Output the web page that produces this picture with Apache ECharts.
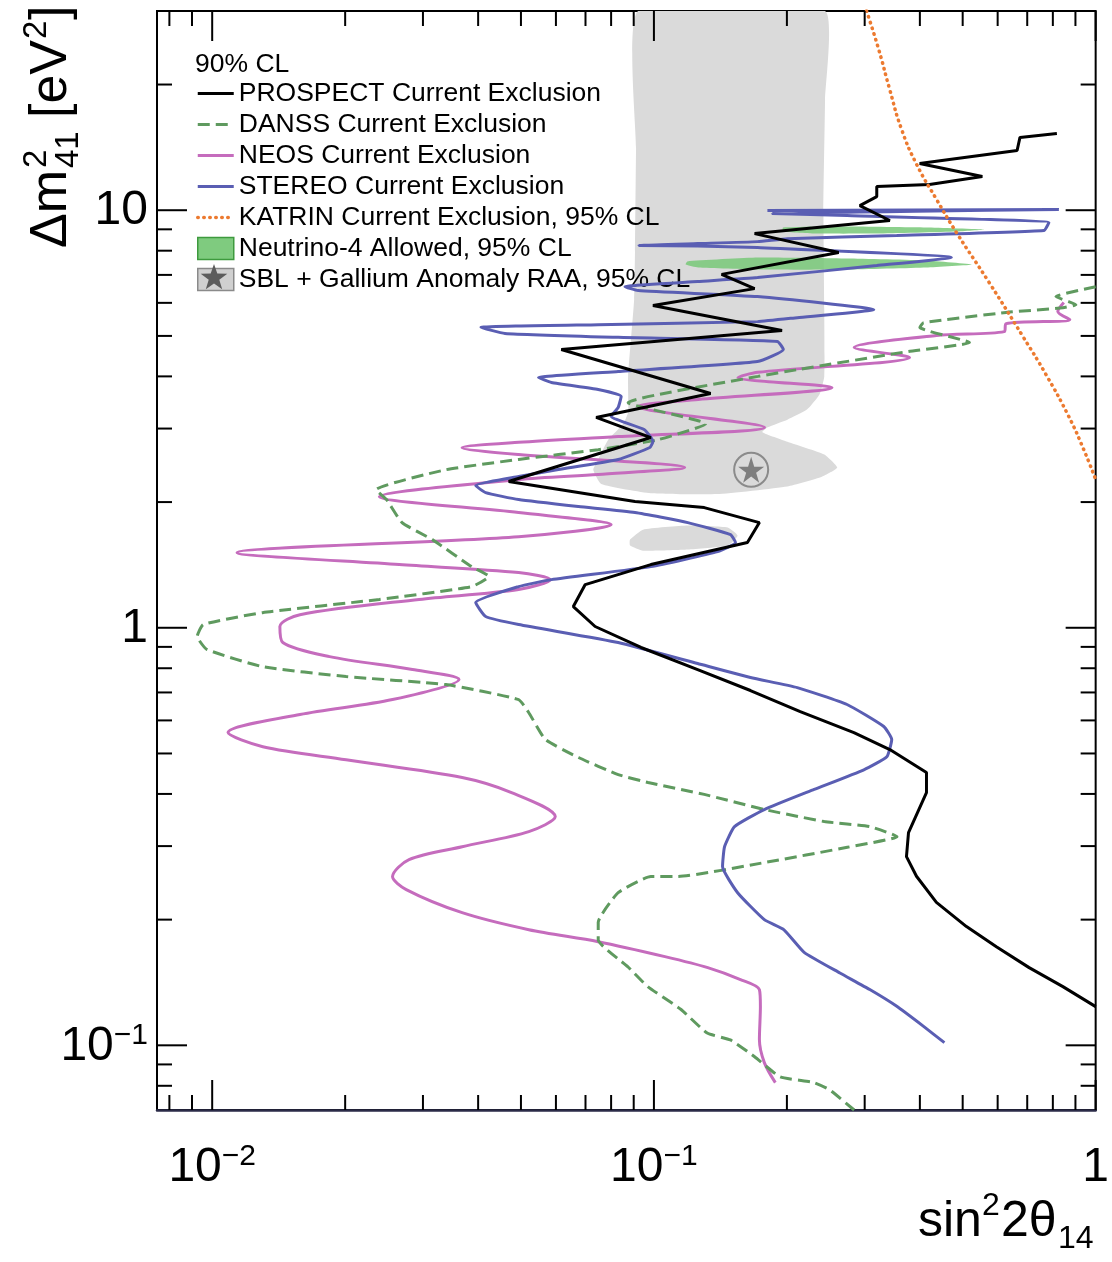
<!DOCTYPE html>
<html>
<head>
<meta charset="utf-8">
<script src="https://cdn.jsdelivr.net/npm/echarts@6/dist/echarts.min.js"></script>
<style>
html,body{margin:0;padding:0;background:#fff;}
#chart{width:1112px;height:1262px;}
</style>
</head>
<body>
<div id="chart"></div>
<script>
const FONT = '"Liberation Sans", Arial, Helvetica, sans-serif';
const X_MIN = 0.0075, X_MAX = 1, Y_MIN = 0.07, Y_MAX = 30;

const xMajorTicks = [0.01, 0.1, 1];
const xMinorTicks = [0.008, 0.009, 0.02, 0.03, 0.04, 0.05, 0.06, 0.07, 0.08, 0.09, 0.2, 0.3, 0.4, 0.5, 0.6, 0.7, 0.8, 0.9];
const xTickLabels = ['{b|10}{s|\u22122}', '{b|10}{s|\u22121}', '{b|1}'];
const yMajorTicks = [0.1, 1, 10];
const yMinorTicks = [0.08, 0.09, 0.2, 0.3, 0.4, 0.5, 0.6, 0.7, 0.8, 0.9, 2, 3, 4, 5, 6, 7, 8, 9, 20, 30];
const yTickLabels = ['{b|10}{s|\u22121}', '{b|1}', '{b|10}'];

const seriesNames = [
  'PROSPECT Current Exclusion',
  'DANSS Current Exclusion',
  'NEOS Current Exclusion',
  'STEREO Current Exclusion',
  'KATRIN Current Exclusion, 95% CL',
  'Neutrino-4 Allowed, 95% CL',
  'SBL + Gallium Anomaly RAA, 95% CL'
];

const prospectCurve = [
  [0.817,15.27],[0.674,14.94],[0.664,13.90],[0.4666,13.23],[0.3995,12.94],[0.554,12.04],[0.4207,11.53],[0.3195,11.40],
  [0.3195,10.78],[0.2925,10.26],[0.342,9.45],[0.169,8.79],[0.262,7.92],[0.1423,7.02],[0.169,6.49],[0.0995,5.91],
  [0.195,5.15],[0.0617,4.64],[0.1344,3.64],[0.074,3.19],[0.0984,2.855],[0.0469,2.24],[0.0906,2.006],[0.130,1.94],
  [0.1733,1.786],[0.1628,1.600],[0.0984,1.417],[0.0699,1.269],[0.0657,1.124],[0.0736,1.007],[0.0935,0.897],
  [0.1256,0.794],[0.1654,0.7075],[0.2144,0.630],[0.2836,0.561],[0.342,0.511],[0.414,0.450],[0.414,0.403],
  [0.377,0.323],[0.373,0.283],[0.393,0.254],[0.436,0.220],[0.510,0.1925],[0.596,0.1723],[0.707,0.1535],
  [0.843,0.1382],[1.0,0.1238]
];

const stereoCurve = [
  [0.1807,9.98],[0.8255,10.04],[0.1853,9.82],[0.2736,9.71],[0.7837,9.34],[0.7637,8.94],[0.3546,8.70],[0.2005,8.55],
  [0.1716,8.41],[0.1256,8.32],[0.0925,8.23],[0.1256,8.21],[0.1716,8.14],[0.4714,7.70],[0.3195,7.37],[0.1716,6.90],
  [0.1256,6.75],[0.0860,6.56],[0.0921,6.42],[0.1716,6.21],[0.3146,5.78],[0.2111,5.53],[0.1716,5.41],[0.0748,5.32],
  [0.0406,5.24],[0.0460,5.07],[0.0830,4.96],[0.1903,4.85],[0.1963,4.64],[0.1716,4.34],[0.0830,4.11],[0.0548,3.975],
  [0.0586,3.867],[0.0748,3.72],[0.0843,3.58],[0.0830,3.37],[0.0800,3.21],[0.0950,2.985],[0.0995,2.793],[0.0979,2.702],
  [0.0830,2.529],[0.0608,2.393],[0.0494,2.302],[0.0395,2.190],[0.0416,2.107],[0.0494,2.028],[0.0675,1.951],
  [0.0906,1.888],[0.1193,1.786],[0.1491,1.671],[0.1530,1.600],[0.1394,1.522],[0.0984,1.401],[0.0586,1.304],
  [0.0494,1.255],[0.0395,1.149],[0.0416,1.064],[0.0494,1.018],[0.0830,0.922],[0.1256,0.821],[0.1654,0.760],
  [0.2111,0.719],[0.2736,0.655],[0.3314,0.580],[0.3454,0.540],[0.3367,0.491],[0.2987,0.457],[0.2305,0.410],
  [0.1778,0.367],[0.1522,0.334],[0.1445,0.299],[0.1430,0.268],[0.1547,0.232],[0.1778,0.200],[0.1970,0.189],
  [0.2188,0.167],[0.2637,0.149],[0.3081,0.136],[0.3546,0.124],[0.4078,0.111],[0.4546,0.1015]
];

const neosCurve = [
  [0.847,6.01],[0.821,5.72],[0.874,5.47],[0.627,5.35],[0.621,5.12],[0.436,5.01],[0.284,4.69],[0.379,4.44],
  [0.172,4.09],[0.155,3.975],[0.253,3.76],[0.126,3.52],[0.0921,3.39],[0.178,3.02],[0.083,2.87],[0.0494,2.78],
  [0.0368,2.70],[0.0494,2.60],[0.1174,2.42],[0.0748,2.33],[0.0494,2.265],[0.0239,2.06],[0.0494,1.888],[0.080,1.766],
  [0.0494,1.653],[0.01138,1.513],[0.0265,1.417],[0.0494,1.356],[0.0583,1.304],[0.0494,1.235],[0.0294,1.169],
  [0.0158,1.075],[0.01423,1.007],[0.01445,0.922],[0.01844,0.853],[0.0284,0.794],[0.0362,0.752],[0.0256,0.673],
  [0.0158,0.620],[0.01086,0.561],[0.01302,0.519],[0.0201,0.483],[0.0368,0.438],[0.0476,0.403],[0.0598,0.353],
  [0.0521,0.325],[0.0368,0.299],[0.0279,0.2785],[0.0256,0.2536],[0.0275,0.236],[0.0368,0.2078],[0.0521,0.1892],
  [0.0748,0.1771],[0.1059,0.1631],[0.1324,0.1535],[0.157,0.1437],[0.1733,0.1359],[0.1742,0.1238],[0.1733,0.1032],
  [0.1778,0.0909],[0.1883,0.0814]
];

const danssCurve = [
  [1.0,6.56],[0.813,6.21],[0.869,6.04],[0.902,5.94],[0.843,5.84],[0.627,5.69],[0.408,5.38],[0.400,5.24],[0.518,4.82],
  [0.377,4.59],[0.211,4.15],[0.172,4.00],[0.0874,3.46],[0.131,3.08],[0.102,2.82],[0.0748,2.67],[0.0494,2.53],
  [0.0338,2.39],[0.0235,2.14],[0.0248,2.03],[0.0269,1.786],[0.0315,1.626],[0.0387,1.40],[0.0423,1.327],[0.0387,1.255],
  [0.0239,1.169],[0.0130,1.087],[0.00954,1.018],[0.00925,0.953],[0.00974,0.887],[0.0130,0.807],[0.0201,0.764],
  [0.0338,0.731],[0.0494,0.673],[0.0521,0.626],[0.0568,0.540],[0.0675,0.489],[0.083,0.445],[0.097,0.426],
  [0.130,0.399],[0.178,0.367],[0.243,0.3435],[0.308,0.334],[0.355,0.316],[0.274,0.298],[0.178,0.274],[0.113,0.2536],
  [0.0984,0.2536],[0.083,0.232],[0.0748,0.197],[0.0748,0.179],[0.0874,0.154],[0.097,0.138],[0.115,0.122],
  [0.132,0.107],[0.149,0.103],[0.169,0.0939],[0.193,0.0841],[0.2305,0.0814],[0.250,0.0782],[0.284,0.070]
];

const katrinCurve = [
  [0.303,30],[0.3228,24.26],[0.3418,19.46],[0.3637,15.61],[0.3934,12.87],[0.4364,10.61],[0.4841,8.84],
  [0.5741,6.71],[0.6848,4.98],[0.772,4.04],[0.8694,3.205],[0.9397,2.672],[1.0,2.265]
];

const neutrino4Regions = [
  [[0.196,9.09],[0.274,9.14],[0.414,9.09],[0.559,8.99],[0.484,8.89],[0.320,8.79],[0.234,8.79],[0.196,8.89]],
  [[0.119,7.54],[0.172,7.70],[0.274,7.66],[0.414,7.58],[0.526,7.41],[0.414,7.29],[0.274,7.21],[0.172,7.21],[0.126,7.29],[0.118,7.41]]
];

const sblRegions = [
  [[0.0921,30],[0.244,30],[0.244,18.4],[0.242,10.0],[0.243,5.78],[0.243,4.00],[0.237,3.62],[0.222,3.33],[0.2005,3.15],
   [0.181,3.02],[0.176,2.94],[0.2005,2.79],[0.243,2.60],[0.260,2.42],[0.240,2.30],[0.2005,2.18],[0.139,2.09],
   [0.0984,2.10],[0.076,2.21],[0.0729,2.39],[0.0748,2.53],[0.0788,2.82],[0.0851,3.07],[0.0874,3.28],[0.0874,4.00],
   [0.0902,6.11],[0.0906,7.92],[0.0911,14.0]],
  [[0.0883,1.626],[0.0945,1.718],[0.1193,1.757],[0.1469,1.738],[0.1547,1.662],[0.1469,1.574],[0.1193,1.539],[0.0945,1.530],[0.0883,1.574]]
];

const sblBestFit = [[0.166, 2.39]];

function labelFor(ticks, labels) {
  return function (v) {
    for (let i = 0; i < ticks.length; i++) {
      if (Math.abs(v - ticks[i]) / ticks[i] < 1e-6) return labels[i];
    }
    return '';
  };
}

const labelRich = {
  b: { fontSize: 48, fontFamily: FONT, color: '#000', verticalAlign: 'bottom', lineHeight: 50 },
  s: { fontSize: 30, fontFamily: FONT, color: '#000', verticalAlign: 'top', lineHeight: 32, padding: [0, 0, 26, 0] }
};

function tickSeries(values, axis, len) {
  return {
    type: 'custom', silent: true, z: 20, clip: false,
    data: values.map(v => axis === 'x' ? [v, Y_MIN] : [X_MIN, v]),
    renderItem: function (params, api) {
      const cs = params.coordSys;
      const p = api.coord([api.value(0), api.value(1)]);
      if (axis === 'x') {
        const b = cs.y + cs.height, t = cs.y;
        return { type: 'group', children: [
          { type: 'line', shape: { x1: p[0], y1: b, x2: p[0], y2: b - len }, style: { stroke: '#000', lineWidth: 2 } },
          { type: 'line', shape: { x1: p[0], y1: t, x2: p[0], y2: t + len }, style: { stroke: '#000', lineWidth: 2 } }
        ]};
      } else {
        const l = cs.x, r = cs.x + cs.width;
        return { type: 'group', children: [
          { type: 'line', shape: { x1: l, y1: p[1], x2: l + len, y2: p[1] }, style: { stroke: '#000', lineWidth: 2 } },
          { type: 'line', shape: { x1: r, y1: p[1], x2: r - len, y2: p[1] }, style: { stroke: '#000', lineWidth: 2 } }
        ]};
      }
    }
  };
}

function regionSeries(name, regions, fill, z) {
  return {
    type: 'custom', name: name, z: z, silent: true, clip: true,
    data: regions.map(r => r[0]),
    renderItem: function (params, api) {
      const pts = regions[params.dataIndex].map(p => api.coord(p));
      return { type: 'polygon', shape: { points: pts, smooth: 0.15 }, style: { fill: fill } };
    }
  };
}

const hiddenSymbol = { opacity: 0 };

const chart = echarts.init(document.getElementById('chart'), null, { renderer: 'canvas' });

const option = {
  animation: false,
  backgroundColor: '#fff',
  grid: { left: 157, right: 12, top: 11, bottom: 152, show: true, borderColor: '#000', borderWidth: 2, backgroundColor: 'transparent' },
  title: { text: '90% CL', left: 195, top: 51, padding: 0, textStyle: { fontSize: 26.5, fontWeight: 'normal', fontFamily: FONT, color: '#000' } },
  legend: {
    orient: 'vertical', left: 196, top: 80, padding: 0,
    itemWidth: 36, itemHeight: 22, itemGap: 4, selectedMode: false,
    lineStyle: { width: 'inherit' },
    textStyle: { fontSize: 26.5, fontFamily: FONT, color: '#000' },
    data: [
      { name: seriesNames[0], itemStyle: hiddenSymbol },
      { name: seriesNames[1], itemStyle: hiddenSymbol },
      { name: seriesNames[2], itemStyle: hiddenSymbol },
      { name: seriesNames[3], itemStyle: hiddenSymbol },
      { name: seriesNames[4], itemStyle: hiddenSymbol },
      { name: seriesNames[5], icon: 'rect', itemStyle: { color: '#7fcb7f', borderColor: '#3e9a3e', borderWidth: 1.5 } },
      { name: seriesNames[6], icon: 'rect', itemStyle: { color: '#d0d0d0', borderColor: '#8a8a8a', borderWidth: 1.5 } }
    ]
  },
  xAxis: {
    type: 'log', logBase: 10, min: X_MIN, max: X_MAX,
    axisLine: { show: true, lineStyle: { color: '#2b2b48', width: 2.5 } },
    axisTick: { show: false }, splitLine: { show: false },
    axisLabel: { margin: 32, formatter: labelFor(xMajorTicks, xTickLabels), rich: labelRich, color: '#000' }
  },
  yAxis: {
    type: 'log', logBase: 10, min: Y_MIN, max: Y_MAX,
    axisLine: { show: false }, axisTick: { show: false }, splitLine: { show: false },
    axisLabel: { margin: 9, formatter: labelFor(yMajorTicks, yTickLabels), rich: labelRich, color: '#000' }
  },
  graphic: [
    { type: 'group', x: 52, y: 248, rotation: Math.PI / 2, children: [
      { type: 'text', x: 0, y: 0, style: { text: '\u0394m', fontSize: 52, fontFamily: FONT, fill: '#000', align: 'left', verticalAlign: 'middle' } },
      { type: 'text', x: 80, y: -15, style: { text: '2', fontSize: 33, fontFamily: FONT, fill: '#000', align: 'left', verticalAlign: 'middle' } },
      { type: 'text', x: 80, y: 17, style: { text: '41', fontSize: 33, fontFamily: FONT, fill: '#000', align: 'left', verticalAlign: 'middle' } },
      { type: 'text', x: 130, y: 0, style: { text: '[eV', fontSize: 52, fontFamily: FONT, fill: '#000', align: 'left', verticalAlign: 'middle' } },
      { type: 'text', x: 209, y: -15, style: { text: '2', fontSize: 33, fontFamily: FONT, fill: '#000', align: 'left', verticalAlign: 'middle' } },
      { type: 'text', x: 228, y: 0, style: { text: ']', fontSize: 52, fontFamily: FONT, fill: '#000', align: 'left', verticalAlign: 'middle' } }
    ]},
    { type: 'group', x: 918, y: 1222, children: [
      { type: 'text', x: 0, y: 0, style: { text: 'sin', fontSize: 50, fontFamily: FONT, fill: '#000', align: 'left', verticalAlign: 'middle' } },
      { type: 'text', x: 64, y: -16, style: { text: '2', fontSize: 32, fontFamily: FONT, fill: '#000', align: 'left', verticalAlign: 'middle' } },
      { type: 'text', x: 83, y: 0, style: { text: '2\u03b8', fontSize: 50, fontFamily: FONT, fill: '#000', align: 'left', verticalAlign: 'middle' } },
      { type: 'text', x: 140, y: 17, style: { text: '14', fontSize: 32, fontFamily: FONT, fill: '#000', align: 'left', verticalAlign: 'middle' } }
    ]},
    { type: 'polygon', z: 100, shape: { points: [[214,264],[217.3,273.5],[227.3,273.7],[219.3,279.7],[222.2,289.3],[214,283.6],[205.8,289.3],[208.7,279.7],[200.7,273.7],[210.7,273.5]] }, style: { fill: '#5c5c5c' } }
  ],
  series: [
    regionSeries(seriesNames[6], sblRegions, '#dadada', 1),
    regionSeries(seriesNames[5], neutrino4Regions, 'rgba(120,200,120,0.85)', 2),
    { type: 'line', name: seriesNames[2], data: neosCurve, showSymbol: false, symbol: 'none', smooth: 0.3, z: 3,
      lineStyle: { color: '#c56cbd', width: 3 }, itemStyle: { color: '#c56cbd' } },
    { type: 'line', name: seriesNames[1], data: danssCurve, showSymbol: false, symbol: 'none', smooth: 0.15, z: 4,
      lineStyle: { color: '#5f9a5f', width: 3, type: [12, 6] }, itemStyle: { color: '#5f9a5f' } },
    { type: 'line', name: seriesNames[3], data: stereoCurve, showSymbol: false, symbol: 'none', smooth: 0.15, z: 5,
      lineStyle: { color: '#5a5eb3', width: 3 }, itemStyle: { color: '#5a5eb3' } },
    { type: 'line', name: seriesNames[0], data: prospectCurve, showSymbol: false, symbol: 'none', z: 6,
      lineStyle: { color: '#000', width: 3 }, itemStyle: { color: '#000' } },
    { type: 'line', name: seriesNames[4], data: katrinCurve, showSymbol: false, symbol: 'none', smooth: 0.5, z: 7,
      lineStyle: { color: '#ec7a30', width: 3.5, type: [0.5, 5.5], cap: 'round' }, itemStyle: { color: '#ec7a30' } },
    { type: 'scatter', name: seriesNames[6], data: sblBestFit, symbol: 'circle', symbolSize: 34, z: 8, silent: true,
      itemStyle: { color: 'rgba(0,0,0,0)', borderColor: '#777', borderWidth: 2 } },
    { type: 'scatter', name: seriesNames[6], data: sblBestFit, symbolSize: 26, z: 9, silent: true,
      symbol: 'path://M50,2 L61.2,36.5 L97.6,36.5 L68.2,57.8 L79.4,92.4 L50,71 L20.6,92.4 L31.8,57.8 L2.4,36.5 L38.8,36.5 Z',
      itemStyle: { color: '#666' } },
    tickSeries(xMajorTicks, 'x', 30),
    tickSeries(xMinorTicks, 'x', 15),
    tickSeries(yMajorTicks, 'y', 30),
    tickSeries(yMinorTicks, 'y', 15)
  ]
};

chart.setOption(option);
</script>
</body>
</html>
